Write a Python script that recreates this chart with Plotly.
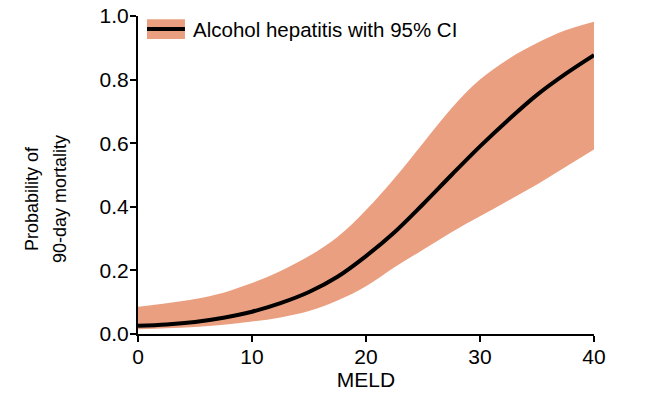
import plotly.graph_objects as go

# Data
meld = [0, 2.5, 5, 7.5, 10, 12.5, 15, 17.5, 20, 22.5, 25, 27.5, 30, 32.5, 35, 37.5, 40]
prob = [0.026, 0.030, 0.038, 0.051, 0.070, 0.097, 0.132, 0.180, 0.245, 0.320, 0.408,
        0.500, 0.590, 0.674, 0.752, 0.818, 0.877]
ci_upper = [0.086, 0.097, 0.110, 0.130, 0.160, 0.198, 0.245, 0.305, 0.390, 0.490, 0.600,
            0.710, 0.800, 0.865, 0.915, 0.955, 0.982]
ci_lower = [0.015, 0.018, 0.022, 0.029, 0.039, 0.052, 0.072, 0.105, 0.150, 0.210, 0.265,
            0.320, 0.370, 0.420, 0.470, 0.525, 0.580]
series_name = "Alcohol hepatitis with 95% CI"
x_title = "MELD"
y_title_lines = ["Probability of", "90-day mortality"]
x_ticks = [0, 10, 20, 30, 40]
y_ticks = [0.0, 0.2, 0.4, 0.6, 0.8, 1.0]
y_tick_labels = ["0.0", "0.2", "0.4", "0.6", "0.8", "1.0"]

band_color = "rgb(234,160,128)"
font_family = "Liberation Sans, Arial, Helvetica, sans-serif"

W, H = 647, 401
L, R, T, B = 138, 53, 16, 67
plot_w = W - L - R

fig = go.Figure()
fig.add_trace(go.Scatter(x=meld, y=ci_upper, mode="lines", line=dict(width=0, shape="spline"),
                         showlegend=False, hoverinfo="skip"))
fig.add_trace(go.Scatter(x=meld, y=ci_lower, mode="lines", line=dict(width=0, shape="spline"),
                         fill="tonexty", fillcolor=band_color, showlegend=False, hoverinfo="skip"))
fig.add_trace(go.Scatter(x=meld, y=prob, mode="lines", name=series_name,
                         line=dict(color="black", width=4, shape="spline"), showlegend=False))

# Legend swatch (salmon patch with black line) + label
fig.add_shape(type="rect", xref="paper", yref="paper", x0=0.0197, x1=0.103, y0=0.928, y1=0.990,
              fillcolor=band_color, line=dict(width=0))
fig.add_shape(type="line", xref="paper", yref="paper", x0=0.0197, x1=0.103, y0=0.959, y1=0.959,
              line=dict(color="black", width=4))
fig.add_annotation(text=series_name, xref="paper", yref="paper", x=0.116, y=0.957,
                   xanchor="left", yanchor="middle", showarrow=False,
                   font=dict(size=20.5, color="black", family=font_family))

# Y axis title as two rotated lines
for line_text, px in zip(y_title_lines, [32, 60]):
    fig.add_annotation(text=line_text, xref="paper", yref="paper",
                       x=(px - L) / plot_w, y=0.4245, textangle=-90,
                       xanchor="center", yanchor="middle", showarrow=False,
                       font=dict(size=18, color="black", family=font_family))

fig.update_layout(
    width=W, height=H,
    margin=dict(l=L, r=R, t=T, b=B),
    paper_bgcolor="white", plot_bgcolor="white",
    font=dict(family=font_family, color="black", size=21),
    showlegend=False,
)
fig.update_xaxes(range=[0, 40], tickvals=x_ticks, showgrid=False, zeroline=False,
                 showline=True, linecolor="black", linewidth=2, automargin=False,
                 ticks="outside", ticklen=6, tickwidth=2, tickcolor="black",
                 tickfont=dict(size=21), ticklabelstandoff=-3, ticklabeloverflow="allow",
                 title=dict(text=x_title, font=dict(size=21), standoff=3))
fig.update_yaxes(range=[0, 1], tickvals=y_ticks, ticktext=y_tick_labels, showgrid=False,
                 zeroline=False, showline=True, linecolor="black", linewidth=2, automargin=False,
                 ticks="outside", ticklen=6, tickwidth=2, tickcolor="black",
                 tickfont=dict(size=21), ticklabelstandoff=-3, ticklabeloverflow="allow")

# remove the default 8px body margin of the page; hide the mode bar
fig.write_html("out.html", config={"displayModeBar": False},
               post_script="document.body.style.margin='0';")
